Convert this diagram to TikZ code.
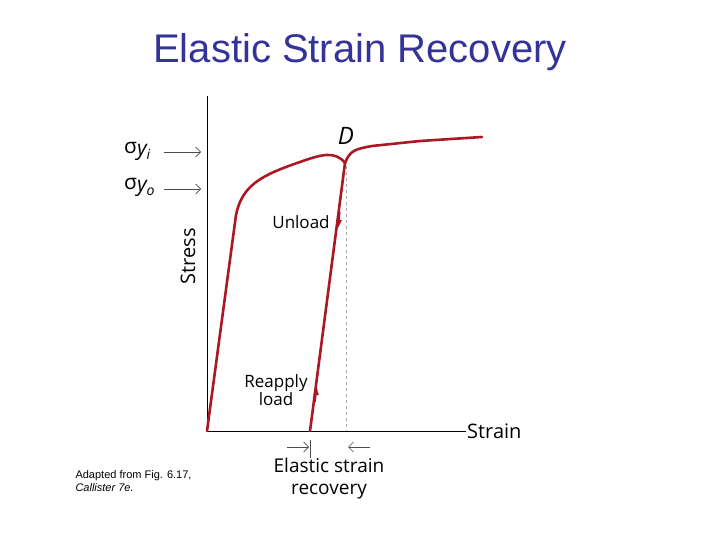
\documentclass[tikz,border=0pt]{standalone}
\usepackage{fontspec}
\setmainfont{Liberation Sans}
\newfontfamily\lab{Open Sans}
\usetikzlibrary{arrows.meta}
\definecolor{ttl}{RGB}{51,51,153}
\definecolor{crv}{RGB}{170,25,35}
\tikzset{curve/.style={draw=crv,line width=2.6pt,line cap=round},
 axis/.style={draw=black,line width=1pt},
 thinarr/.style={draw=black!70,line width=0.7pt,-{Straight Barb[length=5pt]}},
 lbl/.style={inner sep=1pt}}
\begin{document}
\begin{tikzpicture}[x=1pt,y=-1pt]
\useasboundingbox (0,0) rectangle (720,540);
\fill[white] (0,0) rectangle (720,540);
\node[text=ttl,font=\fontsize{40}{42}\selectfont] (title) at (360,52) {Elastic Strain Recovery};
\coordinate (O) at (207,431);
\coordinate (T) at (207,96);
\coordinate (X) at (466,431);
\draw[axis] (T) -- (O) -- (X);
\node[lbl,anchor=west,font=\lab\fontsize{20}{22}\selectfont] (strain) at (X) {Strain};
\node[lbl,rotate=90,font=\lab\fontsize{20}{22}\selectfont] (stress) at (188,256) {Stress};
\coordinate (D) at (345,163);
\coordinate (E) at (310,431);
\draw[draw=black!35,dashed,line width=0.6pt] (346,166) -- (346,431);
\draw[curve] (O) -- (236,215) .. controls (242,185) and (262,175) .. (300,162) .. controls (320,155) and (335,150) .. (D);
\draw[curve] (D) .. controls (350,150) and (356,149) .. (372,146) -- (420,141) -- (482,137);
\draw[curve] (D) -- (E);
\draw[crv,line width=1.2pt,-{Latex[length=8pt,width=6pt]}] (340,212) -- (338.3,228);
\draw[crv,line width=1.2pt,-{Latex[length=8pt,width=6pt]}] (315.2,402) -- (317,387);
\node[font=\lab\itshape\fontsize{24}{26}\selectfont] (dl) at (346,136) {D};
\node[lbl,font=\lab\fontsize{17}{18}\selectfont] (unl) at (301,222) {Unload};
\node[lbl,align=center,font=\lab\fontsize{17}{18}\selectfont] (rea) at (276,390) {Reapply\\load};
\node[font=\lab\fontsize{21}{22}\selectfont,anchor=west,inner sep=0pt] (si) at (124,151) {σ\raisebox{-2pt}{\itshape y}\raisebox{-6pt}{\fontsize{14}{14}\selectfont\itshape i}};
\node[font=\lab\fontsize{21}{22}\selectfont,anchor=west,inner sep=0pt] (so) at (124,187) {σ\raisebox{-2pt}{\itshape y}\raisebox{-6pt}{\fontsize{14}{14}\selectfont\itshape o}};
\coordinate (ai) at (201,152); \coordinate (ao) at (201,189);
\draw[thinarr] (164,152) -- (ai);
\draw[thinarr] (164,189) -- (ao);
\coordinate (t1) at (310,440); \coordinate (t2) at (310,458);
\draw[black!70,line width=0.7pt] (t1) -- (t2);
\draw[thinarr] (287,447) -- (309,447);
\draw[thinarr] (370,447) -- (348,447);
\node[lbl,align=center,font=\lab\fontsize{19}{22}\selectfont] (esr) at (329,479) {Elastic strain\\recovery};
\node[align=left,anchor=west,font=\fontsize{11}{13}\selectfont] (src) at (72,481) {Adapted from Fig. 6.17,\\\textit{Callister 7e.}};
\end{tikzpicture}
\end{document}
